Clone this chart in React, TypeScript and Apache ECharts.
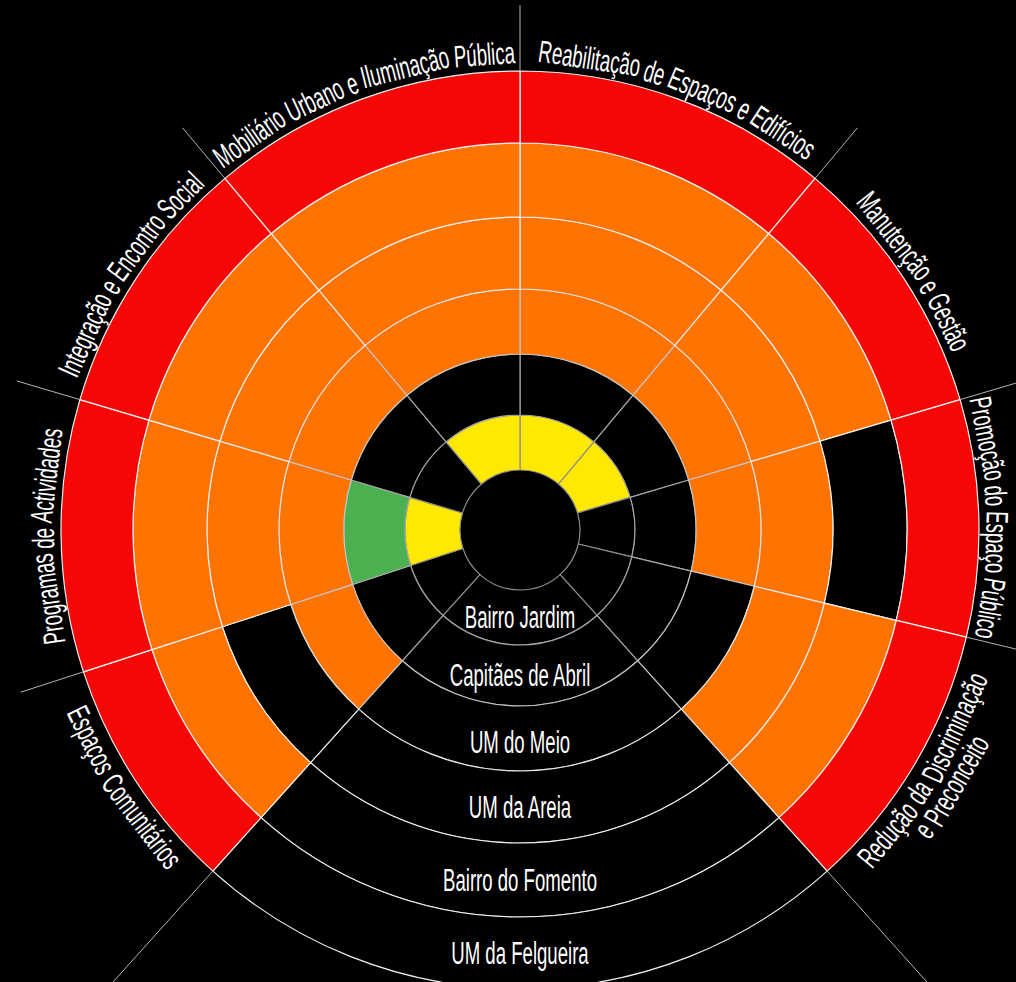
import React, { useEffect, useRef } from "react";
import * as echarts from "echarts";

// ---- data ----
const ringNames = [
  "Bairro Jardim",
  "Capitães de Abril",
  "UM do Meio",
  "UM da Areia",
  "Bairro do Fomento",
  "UM da Felgueira",
];
const sectorNames = [
  "Reabilitação de Espaços e Edifícios",
  "Manutenção e Gestão",
  "Promoção do Espaço Público",
  "Redução da Discriminação\ne Preconceito",
  "",
  "Espaços Comunitários",
  "Programas de Actividades",
  "Integração e Encontro Social",
  "Mobiliário Urbano e Iluminação Pública",
];
// angular share of each sector (degrees, clockwise from top)
const sectorSpans = [40, 33.5, 30, 34.5, 84, 30, 34.5, 33.5, 40];
// level per sector: 0 none, 1 yellow, 2 green, 3 orange, 4 red
const levelsBairroJardim = [1, 1, 0, 0, 0, 0, 1, 0, 1];
const levelsCapitaesDeAbril = [0, 0, 0, 0, 0, 0, 2, 0, 0];
const levelsUMdoMeio = [3, 3, 3, 0, 0, 3, 3, 3, 3];
const levelsUMdaAreia = [3, 3, 3, 3, 0, 0, 3, 3, 3];
const levelsBairroDoFomento = [3, 3, 0, 3, 0, 3, 3, 3, 3];
const levelsUMdaFelgueira = [4, 4, 4, 4, 0, 4, 4, 4, 4];
const ringLevels = [
  levelsBairroJardim,
  levelsCapitaesDeAbril,
  levelsUMdoMeio,
  levelsUMdaAreia,
  levelsBairroDoFomento,
  levelsUMdaFelgueira,
];

// ---- style / layout ----
const levelColors = ["#000000", "#FFE900", "#4CB050", "#FF7300", "#F70606"];
const CX = 520;
const CY = 530;
const RADII = [60, 115, 176, 241, 313, 387, 459];
const BORDERS = ["#8e8e8e", "#a6a6a6", "#c4c4c4", "#e6e6e6", "#f0f0f0", "#f0f0f0"];
const FONT = '"Liberation Sans", Arial, sans-serif';
const FS = 31;
const SX = 0.6;
const LABEL_R = 477;
const LINE_GAP = 26;
const LINE_OUT = 525;
const LINE_OUT_BOTTOM = 640;

let ctx: CanvasRenderingContext2D | null = null;
function measure(t: string): number {
  if (!ctx) ctx = document.createElement("canvas").getContext("2d");
  if (!ctx) return t.length * FS * 0.5;
  ctx.font = `${FS}px ${FONT}`;
  return ctx.measureText(t).width;
}

function textEl(text: string, x: number, y: number, rotation: number) {
  return {
    type: "text",
    x,
    y,
    rotation,
    scaleX: SX,
    z: 100,
    silent: true,
    style: {
      text,
      fill: "#ffffff",
      fontSize: FS,
      fontFamily: FONT,
      align: "center",
      verticalAlign: "middle",
      textAlign: "center",
      textVerticalAlign: "middle",
    },
  };
}

function arcWords(text: string, thetaDeg: number, r: number, flipped: boolean) {
  const th0 = (thetaDeg * Math.PI) / 180;
  const words = text.split(" ");
  const sp = measure(" ") * SX;
  const widths = words.map((w) => measure(w) * SX);
  const total = widths.reduce((a, b) => a + b, 0) + sp * (words.length - 1);
  let s = -total / 2;
  const out: any[] = [];
  words.forEach((w, i) => {
    const mid = s + widths[i] / 2;
    const d = mid / r;
    const th = th0 + (flipped ? -d : d);
    const x = CX + r * Math.sin(th);
    const y = CY - r * Math.cos(th);
    const rot = flipped ? -(th - Math.PI) : -th;
    out.push(textEl(w, x, y, rot));
    s += widths[i] + sp;
  });
  return out;
}

export default function App() {
  const ref = useRef<HTMLDivElement>(null);
  useEffect(() => {
    if (!ref.current) return;
    const chart = echarts.init(ref.current, undefined, { renderer: "svg" });

    const series = ringNames.map((name, ri) => ({
      type: "pie",
      name,
      center: [CX, CY],
      radius: [RADII[ri], RADII[ri + 1]],
      startAngle: 90,
      clockwise: true,
      silent: true,
      avoidLabelOverlap: false,
      label: { show: false },
      labelLine: { show: false },
      emphasis: { disabled: true, scale: false },
      itemStyle: { borderColor: BORDERS[ri], borderWidth: 1.2 },
      data: sectorSpans.map((v, si) => ({
        name: sectorNames[si] || "—",
        value: v,
        itemStyle: { color: levelColors[ringLevels[ri][si]] },
      })),
    }));

    const graphics: any[] = [];
    // radial divider extensions
    let acc = 0;
    const bounds: number[] = [];
    sectorSpans.forEach((v) => {
      bounds.push(acc);
      acc += v;
    });
    const emptyIdx = sectorNames.findIndex((n) => n === "");
    bounds.forEach((b, i) => {
      const th = (b * Math.PI) / 180;
      const nearEmpty = i === emptyIdx || i === emptyIdx + 1;
      const r2 = nearEmpty ? LINE_OUT_BOTTOM : LINE_OUT;
      graphics.push({
        type: "line",
        z: 90,
        silent: true,
        shape: {
          x1: CX + RADII[RADII.length - 1] * Math.sin(th),
          y1: CY - RADII[RADII.length - 1] * Math.cos(th),
          x2: CX + r2 * Math.sin(th),
          y2: CY - r2 * Math.cos(th),
        },
        style: { stroke: "#b4b4b4", lineWidth: 1 },
      });
    });

    // sector labels along arc
    acc = 0;
    sectorSpans.forEach((v, si) => {
      const center = acc + v / 2;
      acc += v;
      const name = sectorNames[si];
      if (!name) return;
      const flipped = center > 110 && center < 250;
      name.split("\n").forEach((line, li) => {
        graphics.push(...arcWords(line, center, LABEL_R + li * LINE_GAP, flipped));
      });
    });

    // ring labels in the empty bottom sector
    ringNames.forEach((name, ri) => {
      const mid = (RADII[ri] + RADII[ri + 1]) / 2;
      graphics.push(textEl(name, CX, CY + mid + (ri === 2 ? 4 : 0), 0));
    });

    chart.setOption({
      animation: false,
      backgroundColor: "#000000",
      series,
      graphic: { elements: graphics },
    });
    return () => chart.dispose();
  }, []);
  return (
    <div
      ref={ref}
      style={{ position: "fixed", left: 0, top: 0, width: 1016, height: 982, background: "#000" }}
    />
  );
}
